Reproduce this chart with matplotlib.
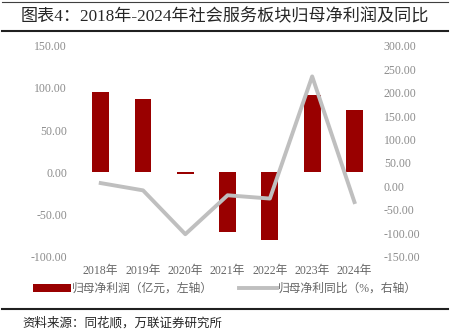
import matplotlib.pyplot as plt
import numpy as np

years = ['2018年', '2019年', '2020年', '2021年', '2022年', '2023年', '2024年']
profit = [95.3, 87.0, -1.5, -71.0, -80.6, 91.2, 74.3]
yoy = [7.0, -8.5, -102.0, -19.0, -26.0, 234.5, -33.5]

plt.rcParams['font.family'] = ['Liberation Serif', 'Noto Sans CJK SC']
plt.rcParams['font.weight'] = 'light'

fig = plt.figure(figsize=(4.5, 3.36), dpi=100)
ax = fig.add_axes([79.6 / 450, 1 - 256.7 / 336, 296 / 450, 211 / 336])
ax2 = ax.twinx()

x = np.arange(len(years))
bars = ax.bar(x, profit, width=0.4, color='#990000', label='归母净利润（亿元，左轴）', zorder=2)
line, = ax2.plot(x, yoy, color='#BFBFBF', lw=2.8, label='归母净利同比（%，右轴）', zorder=3)

ax.set_xlim(-0.5, 6.5)
ax.set_ylim(-100, 150)
ax.set_yticks(np.arange(-100, 151, 50))
ax.set_yticklabels([f'{v:.2f}' for v in np.arange(-100, 151, 50)])
ax2.set_ylim(-150, 300)
ax2.set_yticks(np.arange(-150, 301, 50))
ax2.set_yticklabels([f'{v:.2f}' for v in np.arange(-150, 301, 50)])
ax.set_xticks(x)
ax.set_xticklabels(years)

for a in (ax, ax2):
    for s in a.spines.values():
        s.set_visible(False)
    a.tick_params(length=0, labelsize=8.5, colors='#8C8C8C')
ax.tick_params(axis='y', pad=9)
ax2.tick_params(axis='y', pad=6)
ax.tick_params(axis='x', pad=6, colors='#666666')

fig.legend([bars, line], ['归母净利润（亿元，左轴）', '归母净利同比（%，右轴）'],
           loc='center', bbox_to_anchor=(0.5, 1 - 289 / 336), ncol=2, frameon=False,
           fontsize=8.5, labelcolor='#666666', handlelength=3.2, handletextpad=0.1,
           columnspacing=2.2)

fig.text(0.5, 1 - 17 / 336, '图表4：2018年-2024年社会服务板块归母净利润及同比',
         ha='center', va='center', fontsize=12.3, color='#262626')
fig.add_artist(plt.Line2D([0.005, 0.995], [1 - 2 / 336, 1 - 2 / 336], color='#404040', lw=0.8))
fig.add_artist(plt.Line2D([0.005, 0.995], [1 - 31 / 336, 1 - 31 / 336], color='#202020', lw=1.5))
fig.add_artist(plt.Line2D([0.005, 0.995], [1 - 309 / 336, 1 - 309 / 336], color='#202020', lw=1.5))
fig.text(22 / 450, 1 - 323 / 336, '资料来源：同花顺，万联证券研究所', ha='left', va='center',
         fontsize=9, style='italic', color='#262626')

fig.savefig('out.png', dpi=100)
